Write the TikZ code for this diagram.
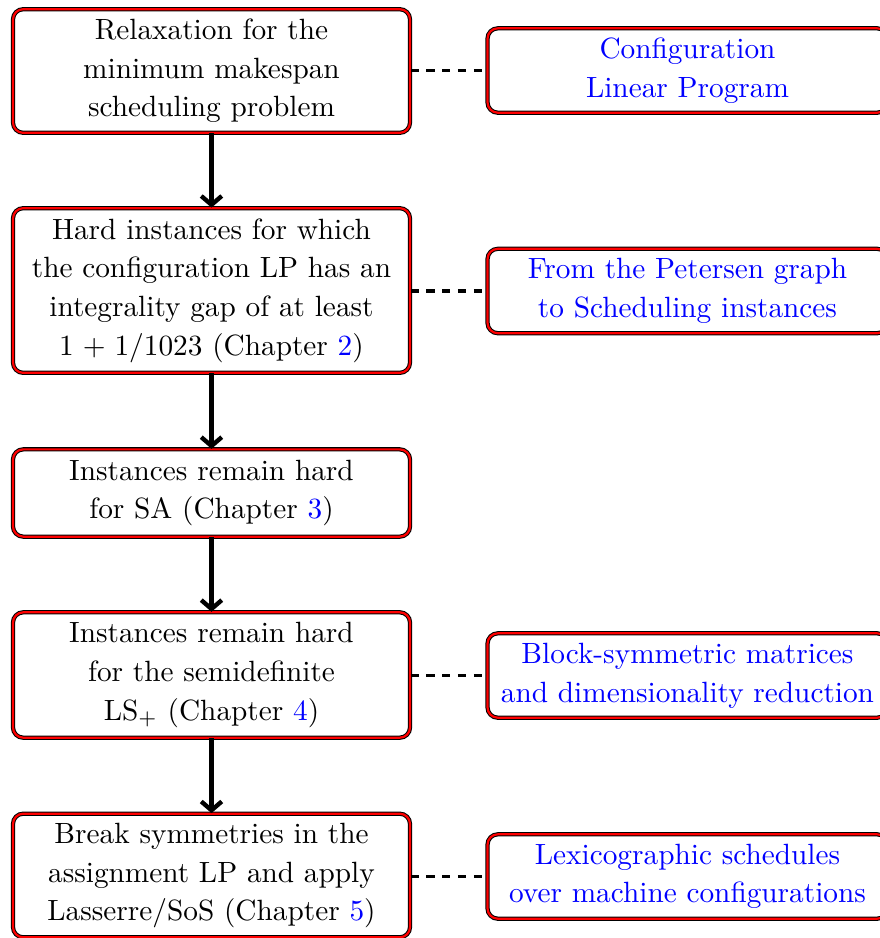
\documentclass[tikz,border=0pt]{standalone}
\usetikzlibrary{arrows.meta}
\begin{document}
\begin{tikzpicture}[x=0.3413pt,y=-0.3413pt,
  box/.style={draw=black, line width=0.35pt, double=red, double distance=0.75pt,
    rounded corners=3.5pt, align=center, inner sep=0pt,
    font=\fontsize{10pt}{13.2pt}\selectfont},
  leftbox/.style={box, minimum width=135.5pt, text width=134pt},
  rightbox/.style={box, minimum width=136.5pt, text width=134pt, text=blue, minimum height=28.8pt},
  flow/.style={line width=1.5pt, -{Straight Barb[length=3pt,width=7pt]}},
  link/.style={line width=1.2pt, dashed, dash pattern=on 2.8pt off 2.6pt}
]
\useasboundingbox (0,0) rectangle (879,938);
\node[leftbox, minimum height=42.2pt] (a) at (211.5,71) {Relaxation for the\\minimum makespan\\scheduling problem};
\node[leftbox, minimum height=56.2pt] (b) at (211.5,290.5) {Hard instances for which\\the configuration LP has an\\integrality gap of at least\\$1+1/1023$ (Chapter \textcolor{blue}{2})};
\node[leftbox, minimum height=29.8pt] (c) at (211.5,493) {Instances remain hard\\for SA (Chapter \textcolor{blue}{3})};
\node[leftbox, minimum height=42.8pt] (d) at (211.5,675) {Instances remain hard\\for the semidefinite\\LS$_+$ (Chapter \textcolor{blue}{4})};
\node[leftbox, minimum height=42.2pt] (e) at (211.5,875.5) {Break symmetries in the\\assignment LP and apply\\Lasserre/SoS (Chapter \textcolor{blue}{5})};

\node[rightbox] (ra) at (687.5,70.5) {Configuration\\Linear Program};
\node[rightbox] (rb) at (687.5,291) {From the Petersen graph\\to Scheduling instances};
\node[rightbox] (rd) at (687.5,675.5) {Block-symmetric matrices\\and dimensionality reduction};
\node[rightbox] (re) at (687.5,876.5) {Lexicographic schedules\\over machine configurations};

\draw[flow] (a) -- (b);
\draw[flow] (b) -- (c);
\draw[flow] (c) -- (d);
\draw[flow] (d) -- (e);

\draw[link] (a.east |- ra.west) -- (ra.west);
\draw[link] (b.east |- rb.west) -- (rb.west);
\draw[link] (d.east |- rd.west) -- (rd.west);
\draw[link] (e.east |- re.west) -- (re.west);
\end{tikzpicture}
\end{document}
